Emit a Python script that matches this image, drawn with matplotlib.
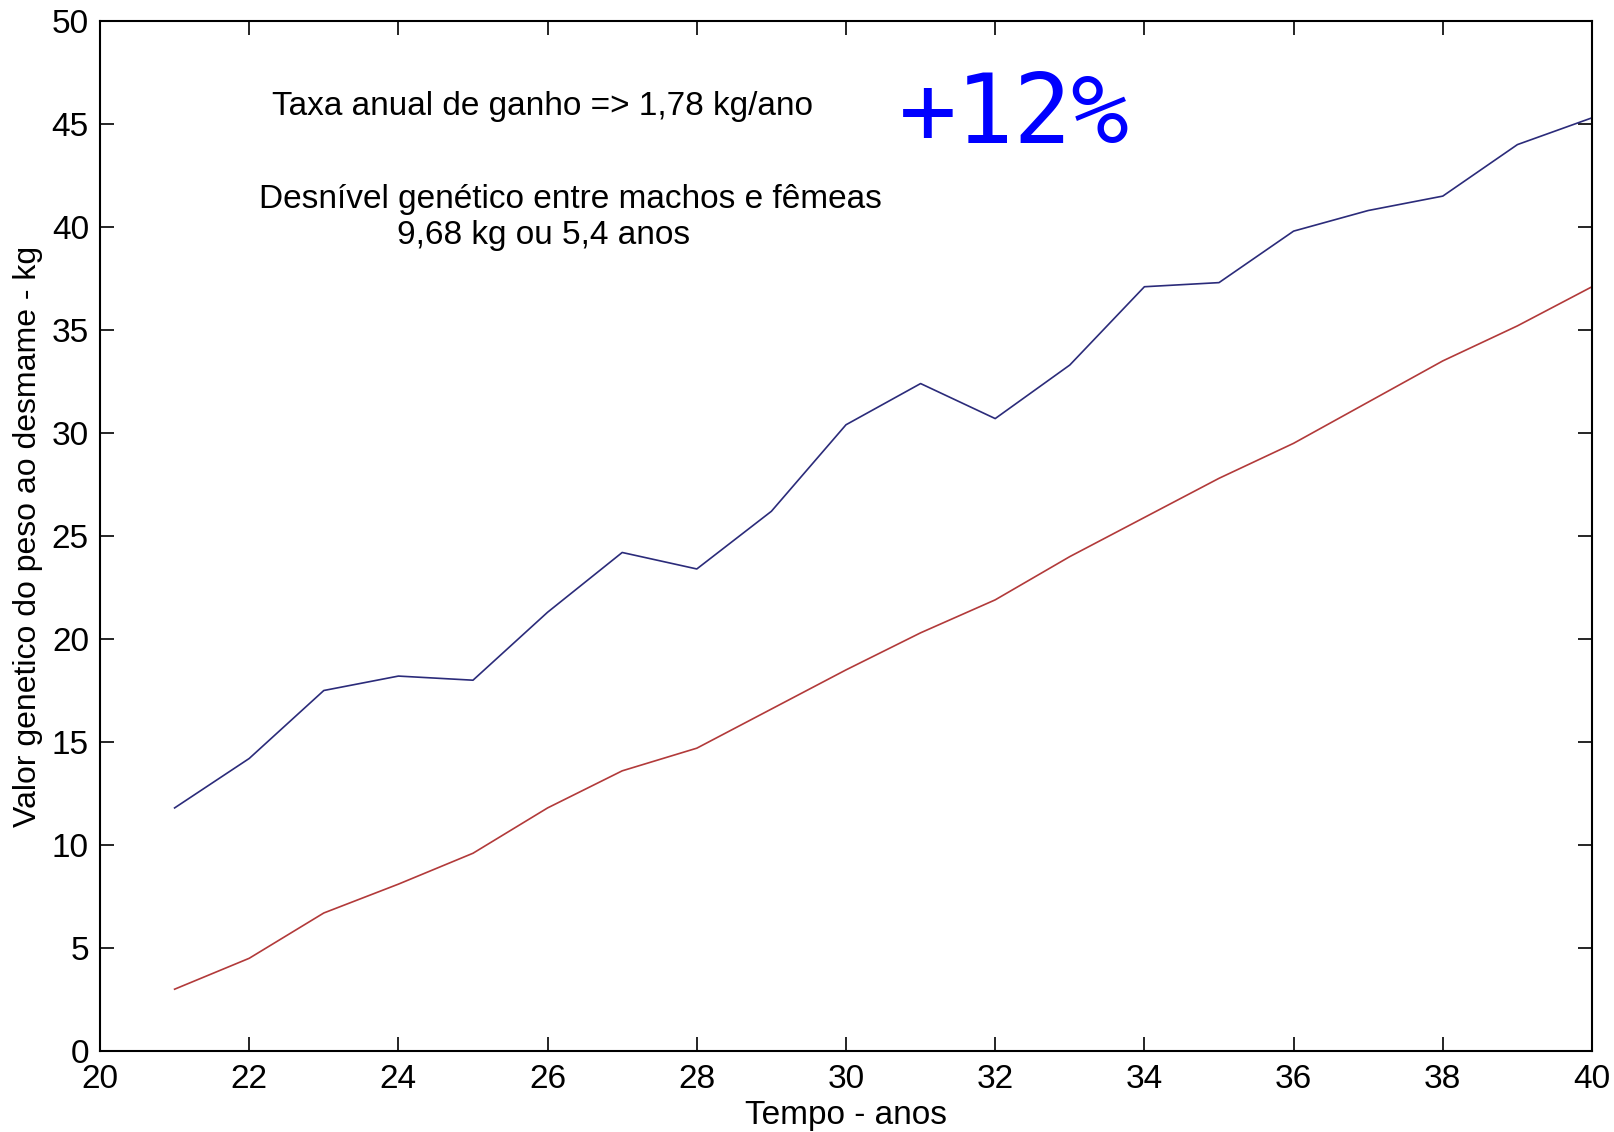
import matplotlib
matplotlib.use("Agg")
import matplotlib.pyplot as plt

anos = [21, 22, 23, 24, 25, 26, 27, 28, 29, 30, 31, 32, 33, 34, 35, 36, 37, 38, 39, 40]
machos = [11.8, 14.2, 17.5, 18.2, 18.0, 21.3, 24.2, 23.4, 26.2, 30.4,
          32.4, 30.7, 33.3, 37.1, 37.3, 39.8, 40.8, 41.5, 44.0, 45.3]
femeas = [3.0, 4.5, 6.7, 8.1, 9.6, 11.8, 13.6, 14.7, 16.6, 18.5,
          20.3, 21.9, 24.0, 25.9, 27.8, 29.5, 31.5, 33.5, 35.2, 37.1]
xticks = [20, 22, 24, 26, 28, 30, 32, 34, 36, 38, 40]
yticks = [0, 5, 10, 15, 20, 25, 30, 35, 40, 45, 50]

plt.rcParams['font.family'] = ['Liberation Sans', 'DejaVu Sans']

W, H = 1614, 1132
fig = plt.figure(figsize=(W / 100, H / 100), dpi=100)
ax = fig.add_axes([100 / W, 1 - 1051 / H, (1592 - 100) / W, (1051 - 21) / H])

ax.plot(anos, machos, color='#2b2b7a', lw=1.2)
ax.plot(anos, femeas, color='#b23a3a', lw=1.2)

ax.set_xlim(20, 40)
ax.set_ylim(0, 50)
ax.set_xticks(xticks)
ax.set_yticks(yticks)
ax.tick_params(direction='in', length=10, width=1.2, top=True, right=True,
               labelsize=24)
ax.tick_params(axis='y', pad=8)
ax.tick_params(axis='x', pad=9)
for s in ax.spines.values():
    s.set_linewidth(1.5)

ax.set_xlabel('Tempo - anos', fontsize=24, labelpad=4)
ax.set_ylabel('Valor genetico do peso ao desmame - kg', fontsize=23, labelpad=6)

ax.text(25.93, 45.85, 'Taxa anual de ganho => 1,78 kg/ano', fontsize=24,
        ha='center', va='center')
ax.text(26.3, 41.35, 'Desnível genético entre machos e fêmeas', fontsize=24,
        ha='center', va='center')
ax.text(25.95, 39.6, '9,68 kg ou 5,4 anos', fontsize=24,
        ha='center', va='center')
ax.text(32.26, 45.4, '+12%', fontsize=69, color='#0000ff',
        family='DejaVu Sans Mono', ha='center', va='center')

fig.savefig('out.png', dpi=100)
